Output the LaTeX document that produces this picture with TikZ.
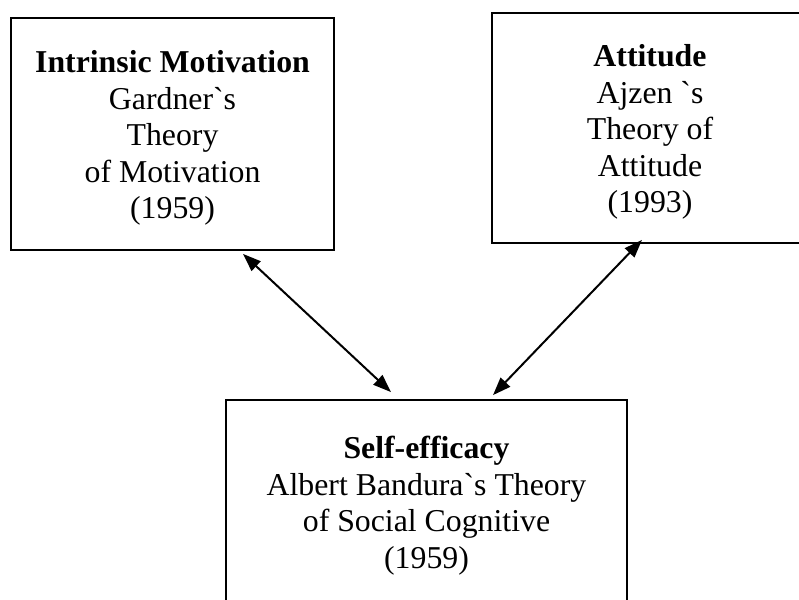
\documentclass[tikz,border=0pt]{standalone}
\usepackage{fontspec}
\setmainfont{Liberation Serif}[Ligatures=TeXOff]
\usetikzlibrary{arrows.meta}
\newcommand{\topgap}{\rule{0pt}{30pt}}
\begin{document}
\begin{tikzpicture}[x=1pt,y=-1pt,
  box/.style={draw, line width=1.8pt, align=center, inner sep=0pt,
    font=\fontsize{31.8}{36.5}\selectfont},
  link/.style={{Triangle[length=18pt,width=13pt]}-{Triangle[length=18pt,width=13pt]}, line width=2pt}]
\useasboundingbox (0,0) rectangle (799,599);
\node[box, minimum width=323pt, minimum height=232pt] (im) at (172.5,134)
  {\topgap\textbf{Intrinsic Motivation}\\Gardner`s\\Theory\\of Motivation\\(1959)};
\node[box, minimum width=316pt, minimum height=230pt] (at) at (650,128)
  {\topgap\textbf{Attitude}\\Ajzen `s\\Theory of\\Attitude\\(1993)};
\node[box, minimum width=401pt, minimum height=204pt] (se) at (426.5,502)
  {\topgap\textbf{Self-efficacy}\\Albert Bandura`s Theory\\of Social Cognitive\\(1959)};
\draw[link] ([xshift=70.5pt,yshift=-3pt]im.south) -- ([xshift=-35.5pt,yshift=7pt]se.north);
\draw[link] ([xshift=-8pt,yshift=4pt]at.south) -- ([xshift=66.5pt,yshift=4pt]se.north);
\end{tikzpicture}
\end{document}
